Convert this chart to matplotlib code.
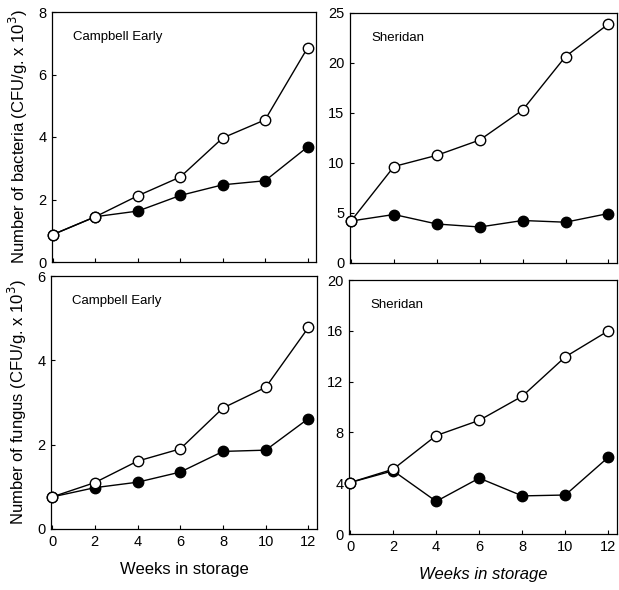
import matplotlib
matplotlib.use('Agg')
import matplotlib.pyplot as plt

plt.rcParams['font.family'] = ['Liberation Sans', 'DejaVu Sans']

# Storage weeks
weeks = [0, 2, 4, 6, 8, 10, 12]

# Bacteria counts (CFU/g x 10^3)
bact_ce_open = [0.88, 1.45, 2.12, 2.72, 3.97, 4.55, 6.85]
bact_ce_filled = [0.88, 1.45, 1.63, 2.13, 2.47, 2.6, 3.68]
bact_sh_open = [4.2, 9.65, 10.77, 12.3, 15.3, 20.65, 23.9]
bact_sh_filled = [4.2, 4.85, 3.9, 3.6, 4.25, 4.08, 4.95]

# Fungus counts (CFU/g x 10^3)
fung_ce_open = [0.76, 1.1, 1.61, 1.9, 2.87, 3.36, 4.78]
fung_ce_filled = [0.76, 0.98, 1.11, 1.35, 1.84, 1.87, 2.62]
fung_sh_open = [4.05, 5.1, 7.75, 8.95, 10.85, 13.95, 16.0]
fung_sh_filled = [4.05, 4.98, 2.57, 4.4, 3.0, 3.07, 6.05]

W, H = 619, 590
fig = plt.figure(figsize=(W / 100, H / 100), dpi=100)


def box(x0, y0, x1, y1):
    return [x0 / W, 1 - y1 / H, (x1 - x0) / W, (y1 - y0) / H]


panels = [
    (box(52, 12, 316, 262), bact_ce_open, bact_ce_filled, 8, [0, 2, 4, 6, 8], 'Campbell Early'),
    (box(350, 13, 617, 263), bact_sh_open, bact_sh_filled, 25, [0, 5, 10, 15, 20, 25], 'Sheridan'),
    (box(51, 276, 317, 529), fung_ce_open, fung_ce_filled, 6, [0, 2, 4, 6], 'Campbell Early'),
    (box(349, 280, 617, 534), fung_sh_open, fung_sh_filled, 20, [0, 4, 8, 12, 16, 20], 'Sheridan'),
]

axes = []
for i, (rect, op, fi, ymax, yt, name) in enumerate(panels):
    ax = fig.add_axes(rect)
    ax.plot(weeks, fi, color='black', lw=1.0, marker='o', ms=7.5,
            mfc='black', mec='black', zorder=2, clip_on=False)
    ax.plot(weeks, op, color='black', lw=1.0, marker='o', ms=7.5,
            mfc='white', mec='black', mew=1.0, zorder=3, clip_on=False)
    ax.set_xlim(-0.05, 12.4)
    ax.set_ylim(0, ymax)
    ax.set_xticks(weeks)
    ax.set_yticks(yt)
    ax.tick_params(direction='in', length=3, width=0.8, labelsize=10.5, pad=4)
    if i < 2:
        ax.tick_params(axis='x', labelbottom=False)
    for s in ax.spines.values():
        s.set_linewidth(0.9)
    ax.text(0.08, 0.9, name, transform=ax.transAxes, fontsize=9.5,
            ha='left', va='center')
    axes.append(ax)

axes[0].set_ylabel('Number of bacteria (CFU/g. x 10$^3$)', fontsize=12, labelpad=6)
axes[2].set_ylabel('Number of fungus (CFU/g. x 10$^3$)', fontsize=12, labelpad=6)
axes[2].set_xlabel('Weeks in storage', fontsize=12, labelpad=10)
axes[3].set_xlabel('Weeks in storage', fontsize=12, labelpad=10, style='italic')

fig.savefig('out.png', dpi=100)
